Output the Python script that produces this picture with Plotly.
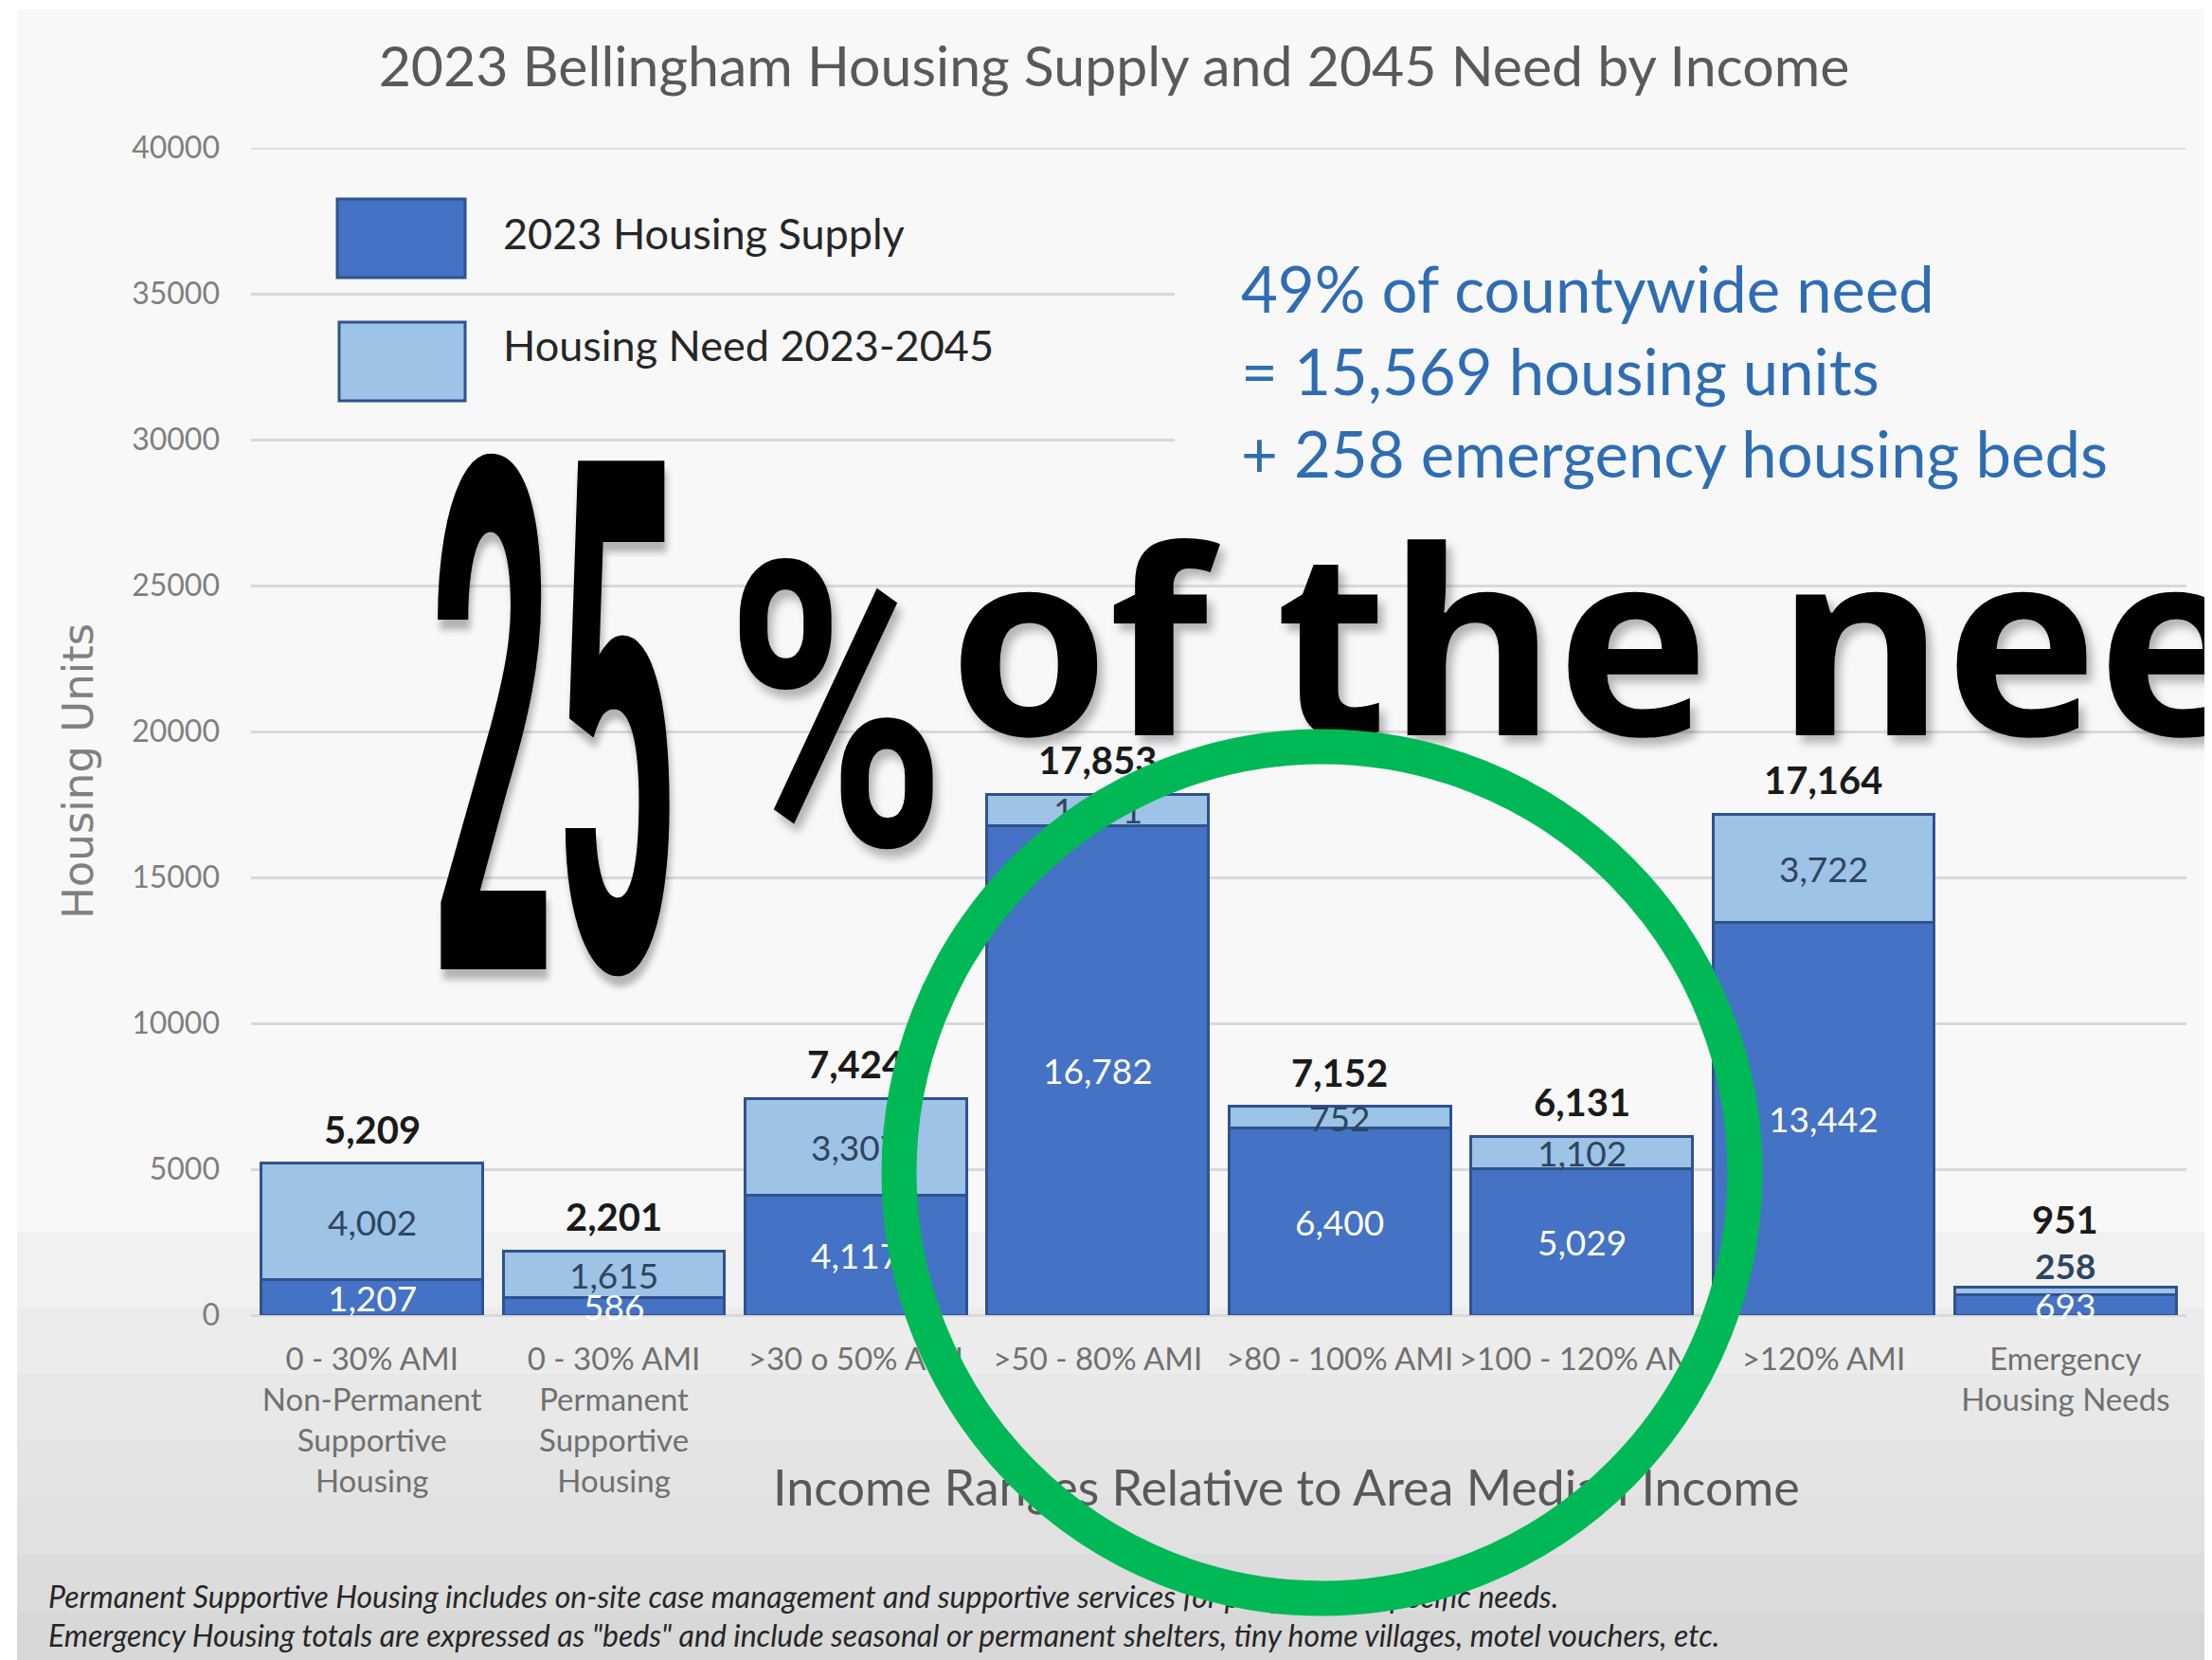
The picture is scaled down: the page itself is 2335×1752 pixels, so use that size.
import plotly.graph_objects as go

# ---- data ----
CATEGORIES = [
    "0 - 30% AMI<br>Non-Permanent<br>Supportive<br>Housing",
    "0 - 30% AMI<br>Permanent<br>Supportive<br>Housing",
    ">30 o 50% AMI",
    ">50 - 80% AMI",
    ">80 - 100% AMI",
    ">100 - 120% AMI",
    ">120% AMI",
    "Emergency<br>Housing Needs",
]
SUPPLY_2023 = [1207, 586, 4117, 16782, 6400, 5029, 13442, 693]
NEED_2023_2045 = [4002, 1615, 3307, 1071, 752, 1102, 3722, 258]
TOTALS = [5209, 2201, 7424, 17853, 7152, 6131, 17164, 951]
Y_TICKS = [0, 5000, 10000, 15000, 20000, 25000, 30000, 35000, 40000]

SUPPLY_BLUE = "#4472C4"
NEED_BLUE = "#9DC3E6"
EDGE = "#2F528F"
GRID = "#D9D9D9"
PANEL = "#F8F8F8"
RING = "#00B956"
FONT = "Lato"

# page body keeps an 8px margin, so the figure is drawn 8px in from the top-left
OFF = 8
W, H = 2335 - OFF, 1752 - OFF
# plot area in screenshot pixels
L, R, T, B = 265, 2308, 156, 1388


def fx(px):
    return (px - L) / (R - L)


def fy(py):
    return (B - py) / (B - T)


fig = go.Figure()
fig.add_trace(go.Bar(x=CATEGORIES, y=SUPPLY_2023, name="2023 Housing Supply",
                     marker=dict(color=SUPPLY_BLUE, line=dict(color=EDGE, width=3))))
fig.add_trace(go.Bar(x=CATEGORIES, y=NEED_2023_2045, name="Housing Need 2023-2045",
                     marker=dict(color=NEED_BLUE, line=dict(color=EDGE, width=3))))

annotations = []
# segment and total labels, anchored on the data
for cat, s, n, tot in zip(CATEGORIES, SUPPLY_2023, NEED_2023_2045, TOTALS):
    tiny = n < 400
    annotations.append(dict(x=cat, y=s / 2, xref="x", yref="y", text=f"{s:,}",
                            font=dict(family=FONT, size=37, color="white")))
    annotations.append(dict(x=cat, y=s + n / 2, xref="x", yref="y", text=f"{n:,}",
                            yshift=27 if tiny else 0,
                            font=dict(family=FONT, size=37, color="#2E4560",
                                      weight="bold" if tiny else "normal")))
    annotations.append(dict(x=cat, y=tot, xref="x", yref="y", text=f"{tot:,}",
                            yshift=72 if tiny else 36,
                            font=dict(family=FONT, size=40, color="#1A1A1A", weight="bold")))

shapes = [
    dict(type="rect", xref="paper", yref="paper", x0=fx(18), x1=fx(2345), y0=fy(1760), y1=fy(10),
         fillcolor=PANEL, line=dict(width=0), layer="below"),
]
bands = [(1300, "#F1F1F1"), (1380, "#ECECEC"), (1450, "#E8E8E8"), (1520, "#E4E4E4"),
         (1580, "#E1E1E1"), (1640, "#DCDCDC"), (1700, "#D8D8D8")]
for i, (top, col) in enumerate(bands):
    bottom = bands[i + 1][0] if i + 1 < len(bands) else 1760
    shapes.append(dict(type="rect", xref="paper", yref="paper", x0=fx(18), x1=fx(2345),
                       y0=fy(bottom), y1=fy(top), fillcolor=col, line=dict(width=0), layer="below"))
# top gridline (plotly skips the one on the range edge)
shapes.append(dict(type="line", xref="paper", yref="y", x0=0, x1=1, y0=Y_TICKS[-1], y1=Y_TICKS[-1],
                   line=dict(color=GRID, width=3), layer="below"))
# panel behind the callout text hides the gridlines
shapes.append(dict(type="rect", xref="paper", yref="paper", x0=fx(1240), x1=fx(2345),
                   y0=fy(560), y1=fy(225), fillcolor=PANEL, line=dict(width=0), layer="above"))
# legend swatches
shapes.append(dict(type="rect", xref="paper", yref="paper", x0=fx(356), x1=fx(491),
                   y0=fy(293), y1=fy(210), fillcolor=SUPPLY_BLUE, line=dict(color=EDGE, width=3)))
shapes.append(dict(type="rect", xref="paper", yref="paper", x0=fx(358), x1=fx(491),
                   y0=fy(423), y1=fy(340), fillcolor=NEED_BLUE, line=dict(color=EDGE, width=3)))
# green ring
ring_index = len(shapes)
shapes.append(dict(type="circle", xref="paper", yref="paper", x0=fx(949), x1=fx(1842),
                   y0=fy(1687), y1=fy(788), line=dict(color=RING, width=37)))

shadow = "6px 8px 10px rgba(0,0,0,0.28)"
overlay = [
    dict(text="2023 Housing Supply", x=fx(529), y=fy(246), xanchor="left",
         font=dict(family=FONT, size=45, color="#262626")),
    dict(text="Housing Need 2023-2045", x=fx(529), y=fy(364), xanchor="left",
         font=dict(family=FONT, size=45, color="#262626")),
    dict(text="49% of countywide need<br>= 15,569 housing units<br>+ 258 emergency housing beds",
         x=fx(1308), y=fy(391), xanchor="left", align="left",
         font=dict(family=FONT, size=67, color="#2E6DB4")),
    dict(text="Housing Units", x=fx(82), y=fy(814), textangle=-90,
         font=dict(family="DejaVu Sans", size=45, color="#808080")),
    dict(text="Income Ranges Relative to Area Median Income", x=fx(1358), y=fy(1569),
         font=dict(family=FONT, size=52, color="#595959")),
    dict(text="Permanent Supportive Housing includes on-site case management and supportive services "
              "for people with specific needs.", x=fx(49), y=fy(1684), xanchor="left",
         font=dict(family=FONT, size=32, color="#262626", style="italic")),
    dict(text="Emergency Housing totals are expressed as \"beds\" and include seasonal or permanent "
              "shelters, tiny home villages, motel vouchers, etc.", x=fx(49), y=fy(1725), xanchor="left",
         font=dict(family=FONT, size=32, color="#262626", style="italic")),
    dict(text="25", x=fx(585), y=fy(765),
         font=dict(family="Roboto", size=755, color="black", weight=700, shadow=shadow)),
    dict(text="%", x=fx(882), y=fy(748),
         font=dict(family="Roboto", size=420, color="black", weight=700, shadow=shadow)),
    dict(text="of the need", x=fx(1000), y=fy(670), xanchor="left",
         font=dict(family="Open Sans", size=272, color="black", weight=700, shadow=shadow)),
]
for a in overlay:
    a.update(xref="paper", yref="paper")
annotations += overlay
for a in annotations:
    a.setdefault("xanchor", "center")
    a.setdefault("yanchor", "middle")
    a["showarrow"] = False

fig.update_layout(
    width=W, height=H, barmode="stack", bargap=0.085, showlegend=False,
    paper_bgcolor="white", plot_bgcolor="rgba(0,0,0,0)",
    margin=dict(l=L - OFF, r=W - (R - OFF), t=T - OFF, b=H - (B - OFF)),
    title=dict(text="2023 Bellingham Housing Supply and 2045 Need by Income",
               x=(1176 - OFF) / W, y=1 - (70 - OFF) / H, xanchor="center", yanchor="middle",
               font=dict(family=FONT, size=59, color="#595959")),
    xaxis=dict(showgrid=False, ticks="", tickangle=0, ticklabelstandoff=24,
               tickfont=dict(family=FONT, size=33, color="#707070")),
    yaxis=dict(range=[0, 40000], tickvals=Y_TICKS, tickformat="d", ticks="", ticklabelstandoff=32,
               showgrid=True, gridcolor=GRID, gridwidth=3,
               zeroline=True, zerolinecolor=GRID, zerolinewidth=3,
               tickfont=dict(family=FONT, size=32, color="#7F7F7F")),
    shapes=shapes, annotations=annotations,
)

# condensed look of the big "25 %" and ring drawn above every text layer
post = """
var gd = document.getElementById('{plot_id}');
var widths = {'25': 262, '%': 232};
gd.querySelectorAll('text.annotation-text').forEach(function (t) {
  var w = widths[t.textContent];
  if (!w) return;
  var b = t.getBBox();
  var cx = b.x + b.width / 2;
  t.setAttribute('transform', 'translate(' + cx + ',0) scale(' + (w / b.width) + ',1) translate(' + (-cx) + ',0)');
});
var ring = gd.querySelector('.layer-above .shapelayer path[data-index="RING_INDEX"]');
var svgs = gd.querySelectorAll('svg.main-svg');
if (ring && svgs.length > 1) { svgs[1].appendChild(ring); }
""".replace("RING_INDEX", str(ring_index))

fig.write_html("out.html", post_script=post)
